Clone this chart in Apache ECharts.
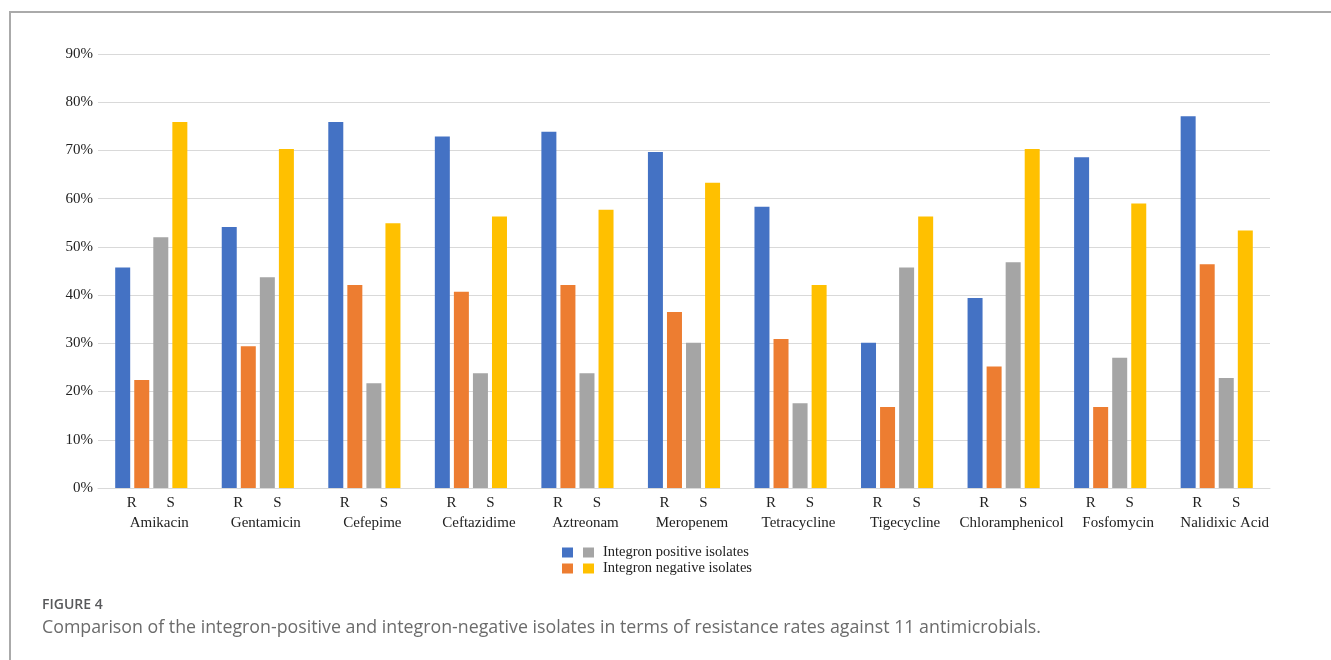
<!DOCTYPE html>
<html>
<head>
<meta charset="utf-8">
<script src="https://cdn.jsdelivr.net/npm/echarts@6/dist/echarts.min.js"></script>
<style>
  html, body { margin: 0; padding: 0; background: #fff; }
  #frame { position: absolute; left: 9px; top: 11px; right: 0; bottom: 0; border-top: 2px solid #aaa; border-left: 2px solid #aaa; }
  #chart { position: absolute; left: 0; top: 0; width: 1331px; height: 660px; }
</style>
</head>
<body>
<div id="frame"></div>
<div id="chart"></div>
<script>
const categories = ['Amikacin', 'Gentamicin', 'Cefepime', 'Ceftazidime', 'Aztreonam', 'Meropenem', 'Tetracycline', 'Tigecycline', 'Chloramphenicol', 'Fosfomycin', 'Nalidixic Acid'];
const positiveR = [45.7, 54.1, 75.9, 72.9, 73.9, 69.7, 58.3, 30.1, 39.4, 68.6, 77.1];
const negativeR = [22.4, 29.4, 42.1, 40.7, 42.1, 36.5, 30.9, 16.8, 25.2, 16.8, 46.4];
const positiveS = [52.0, 43.7, 21.7, 23.8, 23.8, 30.1, 17.6, 45.7, 46.8, 27.0, 22.8];
const negativeS = [75.9, 70.3, 54.9, 56.3, 57.7, 63.3, 42.1, 56.3, 70.3, 59.0, 53.4];
const yTicks = { min: 0, max: 90, interval: 10 };

const serif = '"Liberation Serif", "Times New Roman", serif';
const chart = echarts.init(document.getElementById('chart'), null, { renderer: 'canvas' });

const NAME_POS_R = 'Integron positive isolates R';
const NAME_NEG_R = 'Integron negative isolates R';
const NAME_POS = 'Integron positive isolates';
const NAME_NEG = 'Integron negative isolates';

function bar(name, data, color) {
  return {
    name, type: 'bar', data, barWidth: 15, barGap: '27%',
    itemStyle: { color },
    emphasis: { disabled: true }
  };
}

chart.setOption({
  animation: false,
  backgroundColor: 'transparent',
  title: [
    { text: 'FIGURE 4', left: 42, top: 598, padding: 0,
      textStyle: { fontFamily: '"Open Sans", sans-serif', fontSize: 14, fontWeight: 600, color: '#58595b' } },
    { text: 'Comparison of the integron-positive and integron-negative isolates in terms of resistance rates against 11 antimicrobials.',
      left: 42, top: 619, padding: 0,
      textStyle: { fontFamily: '"Open Sans", sans-serif', fontSize: 17.8, fontWeight: 'normal', color: '#6b6b6b' } }
  ],
  grid: { left: 98, right: 61, top: 54, bottom: 172, containLabel: false },
  legend: [
    { data: [NAME_POS_R, NAME_NEG_R], orient: 'vertical', left: 562, top: 545, padding: 0,
      itemWidth: 11, itemHeight: 10, itemGap: 1, icon: 'rect', selectedMode: false,
      formatter: () => ' ',
      textStyle: { fontFamily: serif, fontSize: 14.5, lineHeight: 14, color: '#222' } },
    { data: [NAME_POS, NAME_NEG], orient: 'vertical', left: 583, top: 545, padding: 0,
      itemWidth: 11, itemHeight: 10, itemGap: 1, icon: 'rect', selectedMode: false,
      textStyle: { fontFamily: serif, fontSize: 14.5, lineHeight: 14, color: '#222', padding: [0, 0, 0, 4] } }
  ],
  xAxis: {
    type: 'category', data: categories,
    axisTick: { show: false },
    axisLine: { lineStyle: { color: '#d9d9d9', width: 1 } },
    axisLabel: {
      interval: 0, margin: 5, color: '#222', fontFamily: serif, fontSize: 15,
      formatter: (v) => `{r|R}{s|S}\n{n|${v}}`,
      rich: {
        r: { width: 39, align: 'center', fontFamily: serif, fontSize: 15, lineHeight: 20, color: '#222' },
        s: { width: 39, align: 'center', fontFamily: serif, fontSize: 15, lineHeight: 20, color: '#222' },
        n: { fontFamily: serif, fontSize: 15, lineHeight: 20, color: '#222', padding: [0, 0, 0, 16] }
      }
    }
  },
  yAxis: {
    type: 'value', min: yTicks.min, max: yTicks.max, interval: yTicks.interval,
    axisLine: { show: false }, axisTick: { show: false },
    splitLine: { lineStyle: { color: '#d9d9d9', width: 1 } },
    axisLabel: { formatter: '{value}%', margin: 5, color: '#222', fontFamily: serif, fontSize: 15 }
  },
  series: [
    bar(NAME_POS_R, positiveR, '#4472C4'),
    bar(NAME_NEG_R, negativeR, '#ED7D31'),
    bar(NAME_POS, positiveS, '#A5A5A5'),
    bar(NAME_NEG, negativeS, '#FFC000')
  ]
});
</script>
</body>
</html>
